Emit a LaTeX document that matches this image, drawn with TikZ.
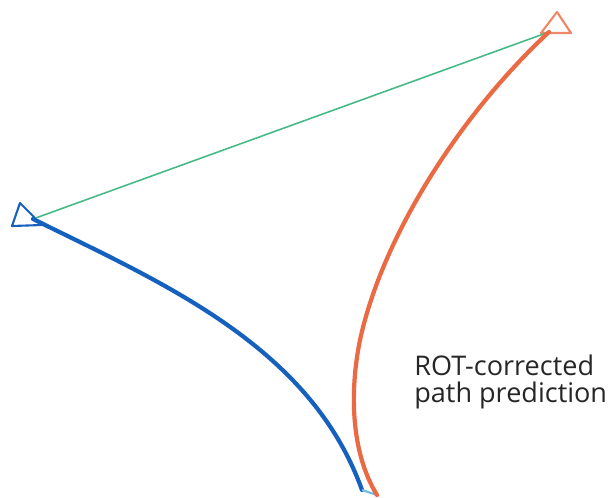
\documentclass[tikz,border=0pt]{standalone}
\usepackage{fontspec}
\setmainfont{Open Sans}
\definecolor{pathblue}{RGB}{22,96,190}
\definecolor{pathorange}{RGB}{234,106,68}
\definecolor{pathgreen}{RGB}{70,185,135}
\definecolor{pathcyan}{RGB}{110,190,225}
\tikzset{
  marker/.style={line width=1.2pt, line join=round},
  route/.style={line width=2.4pt, line cap=round}
}
\begin{document}
\begin{tikzpicture}[x=0.02cm, y=-0.02cm]
      \useasboundingbox (0,0) rectangle (610,498);
      \coordinate (start) at (33,219);
      \coordinate (goal) at (549,32);
      \coordinate (bend) at (360,340);
      \coordinate (meet) at (362,490);
      \coordinate (stop) at (377,495);
      \draw[marker, pathblue, shift={(start)}] (-13,-16) -- (-21,7) -- (9,6) -- cycle;
      \draw[marker, pathorange!80, shift={(goal)}] (8,-20) -- (22,1) -- (-8,1) -- cycle;
      \draw[pathgreen, line width=0.9pt] (start) -- (goal);
      \draw[route, pathblue] (start) .. controls (160,282) and (310,345) .. (meet);
      \draw[pathcyan, line width=1.2pt] (meet) -- (stop);
      \draw[route, pathorange] (goal) .. controls (466,109) and (384,230) .. (bend)
        .. controls (350,389) and (350,451) .. (stop);
      \node[anchor=base west, align=left, inner sep=0pt, font=\fontsize{15.4}{15}\selectfont, text=black!85] (label) at (414,402) {ROT-corrected\\path prediction};
    \end{tikzpicture}
\end{document}
